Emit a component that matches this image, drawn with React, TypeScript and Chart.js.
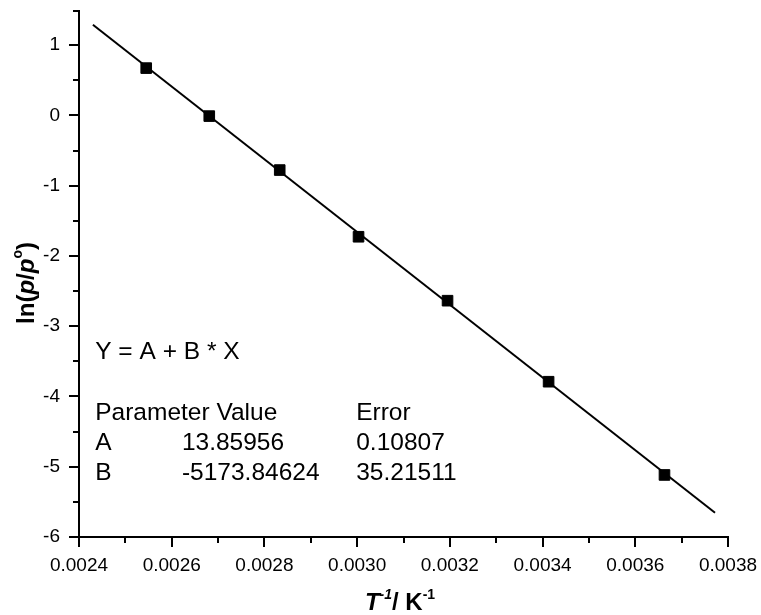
import React, { useEffect, useRef } from 'react';
import { Chart, registerables } from 'chart.js';

Chart.register(...registerables);

// Measured points: x = 1/T (K^-1), y = ln(p/p°)
const pointX = [0.002545, 0.002681, 0.002833, 0.003003, 0.003195, 0.003413, 0.003663];
const pointY = [0.673, -0.01, -0.778, -1.727, -2.637, -3.79, -5.117];

// Linear fit line end points (as drawn)
const fitX = [0.00243, 0.003772];
const fitY = [1.29, -5.656];

// Axis ticks
const xMajorTicks = [0.0024, 0.0026, 0.0028, 0.003, 0.0032, 0.0034, 0.0036, 0.0038];
const xMinorTicks = [0.0025, 0.0027, 0.0029, 0.0031, 0.0033, 0.0035, 0.0037];
const yMajorTicks = [-6, -5, -4, -3, -2, -1, 0, 1];
const yMinorTicks = [-5.5, -4.5, -3.5, -2.5, -1.5, -0.5, 0.5, 1.5];

// Fit annotation text
const equationText = 'Y = A + B * X';
const headerRow = ['Parameter Value', '', 'Error'];
const paramRows = [
  ['A', '13.85956', '0.10807'],
  ['B', '-5173.84624', '35.21511'],
];

const FONT = "'Liberation Sans', Arial, sans-serif";

type Seg = { text: string; font: string; dy?: number };

function drawSegs(ctx: CanvasRenderingContext2D, segs: Seg[], cx: number, baseY: number) {
  let total = 0;
  const widths = segs.map((s) => {
    ctx.font = s.font;
    const w = ctx.measureText(s.text).width;
    total += w;
    return w;
  });
  let x = cx - total / 2;
  ctx.textAlign = 'left';
  ctx.textBaseline = 'alphabetic';
  segs.forEach((s, i) => {
    ctx.font = s.font;
    ctx.fillText(s.text, x, baseY + (s.dy || 0));
    x += widths[i];
  });
}

const overlayPlugin = {
  id: 'overlay',
  afterDraw(chart: any) {
    const ctx: CanvasRenderingContext2D = chart.ctx;
    const xs = chart.scales.x;
    const ys = chart.scales.y;
    const area = chart.chartArea;
    ctx.save();
    ctx.strokeStyle = '#000';
    ctx.fillStyle = '#000';
    ctx.lineWidth = 2;
    ctx.lineCap = 'butt';
    // axes
    ctx.beginPath();
    ctx.moveTo(area.left, area.top);
    ctx.lineTo(area.left, area.bottom + 1);
    ctx.moveTo(area.left - 1, area.bottom);
    ctx.lineTo(area.right + 1, area.bottom);
    ctx.stroke();
    // ticks
    ctx.beginPath();
    xMajorTicks.forEach((v) => {
      const p = Math.round(xs.getPixelForValue(v));
      ctx.moveTo(p, area.bottom);
      ctx.lineTo(p, area.bottom + 10);
    });
    xMinorTicks.forEach((v) => {
      const p = Math.round(xs.getPixelForValue(v));
      ctx.moveTo(p, area.bottom);
      ctx.lineTo(p, area.bottom + 6);
    });
    yMajorTicks.forEach((v) => {
      const p = Math.round(ys.getPixelForValue(v));
      ctx.moveTo(area.left, p);
      ctx.lineTo(area.left - 10, p);
    });
    yMinorTicks.forEach((v) => {
      const p = Math.round(ys.getPixelForValue(v));
      ctx.moveTo(area.left, p + (v === 1.5 ? 1 : 0));
      ctx.lineTo(area.left - 6, p + (v === 1.5 ? 1 : 0));
    });
    ctx.stroke();

    // annotation text
    const col1 = xs.getPixelForValue(0.002435);
    const col2 = xs.getPixelForValue(0.002622);
    const col3 = xs.getPixelForValue(0.002998);
    ctx.font = `24.5px ${FONT}`;
    ctx.textAlign = 'left';
    ctx.textBaseline = 'alphabetic';
    ctx.fillText(equationText, col1, 359);
    const rows = [headerRow, ...paramRows];
    const baselines = [419.5, 449.5, 480];
    rows.forEach((r, i) => {
      ctx.fillText(r[0], col1, baselines[i]);
      if (r[1]) ctx.fillText(r[1], col2, baselines[i]);
      ctx.fillText(r[2], col3, baselines[i]);
    });

    // x title
    drawSegs(
      ctx,
      [
        { text: 'T', font: `italic bold 24px ${FONT}` },
        { text: '-1', font: `italic bold 14px ${FONT}`, dy: -11 },
        { text: '/ K', font: `bold 24px ${FONT}` },
        { text: '-1', font: `bold 14px ${FONT}`, dy: -11 },
      ],
      400,
      610
    );

    // y title
    ctx.save();
    ctx.translate(34, 283);
    ctx.rotate(-Math.PI / 2);
    drawSegs(
      ctx,
      [
        { text: 'ln(', font: `bold 24px ${FONT}` },
        { text: 'p', font: `italic bold 24px ${FONT}` },
        { text: '/', font: `bold 24px ${FONT}` },
        { text: 'p', font: `italic bold 24px ${FONT}` },
        { text: 'o', font: `bold 14px ${FONT}`, dy: -12 },
        { text: ')', font: `bold 24px ${FONT}` },
      ],
      0,
      0
    );
    ctx.restore();
    ctx.restore();
  },
};

export default function App() {
  const canvasRef = useRef<HTMLCanvasElement | null>(null);

  useEffect(() => {
    const canvas = canvasRef.current;
    if (!canvas) return;
    const chart = new Chart(canvas, {
      type: 'scatter',
      data: {
        datasets: [
          {
            type: 'line',
            data: fitX.map((x, i) => ({ x, y: fitY[i] })),
            borderColor: '#000',
            borderWidth: 2,
            pointRadius: 0,
            fill: false,
            order: 2,
          } as any,
          {
            data: pointX.map((x, i) => ({ x, y: pointY[i] })),
            pointStyle: 'rect',
            pointRadius: 7.5,
            backgroundColor: '#000',
            borderColor: '#000',
            borderWidth: 1,
            showLine: false,
            order: 1,
          } as any,
        ],
      },
      options: {
        animation: false,
        responsive: false,
        maintainAspectRatio: false,
        layout: { padding: { top: 10, right: 33, left: 0, bottom: 0 } },
        plugins: { legend: { display: false }, tooltip: { enabled: false } },
        scales: {
          x: {
            type: 'linear',
            min: 0.0024,
            max: 0.0038,
            afterFit: (s: any) => {
              s.height = 78;
              s.paddingLeft = 0;
              s.paddingRight = 0;
              s.paddingTop = 0;
              s.paddingBottom = 0;
            },
            afterBuildTicks: (s: any) => {
              s.ticks = xMajorTicks.map((v) => ({ value: v }));
            },
            ticks: {
              callback: (v: any) => Number(v).toFixed(4),
              font: { size: 19, family: FONT },
              color: '#000',
              padding: 17,
              maxRotation: 0,
              autoSkip: false,
            },
            grid: { display: false, drawTicks: false },
            border: { display: false },
          },
          y: {
            type: 'linear',
            min: -6,
            max: 1.5,
            afterFit: (s: any) => {
              s.width = 79;
              s.paddingLeft = 0;
              s.paddingRight = 0;
              s.paddingTop = 0;
              s.paddingBottom = 0;
            },
            afterBuildTicks: (s: any) => {
              s.ticks = yMajorTicks.map((v) => ({ value: v }));
            },
            ticks: {
              callback: (v: any) => String(v),
              font: { size: 19, family: FONT },
              color: '#000',
              padding: 19,
              autoSkip: false,
            },
            grid: { display: false, drawTicks: false },
            border: { display: false },
          },
        },
      },
      plugins: [overlayPlugin],
    });
    return () => chart.destroy();
  }, []);

  return (
    <div style={{ position: 'absolute', left: 0, top: 0, width: 761, height: 615, background: '#fff' }}>
      <canvas ref={canvasRef} width={761} height={615} />
    </div>
  );
}
